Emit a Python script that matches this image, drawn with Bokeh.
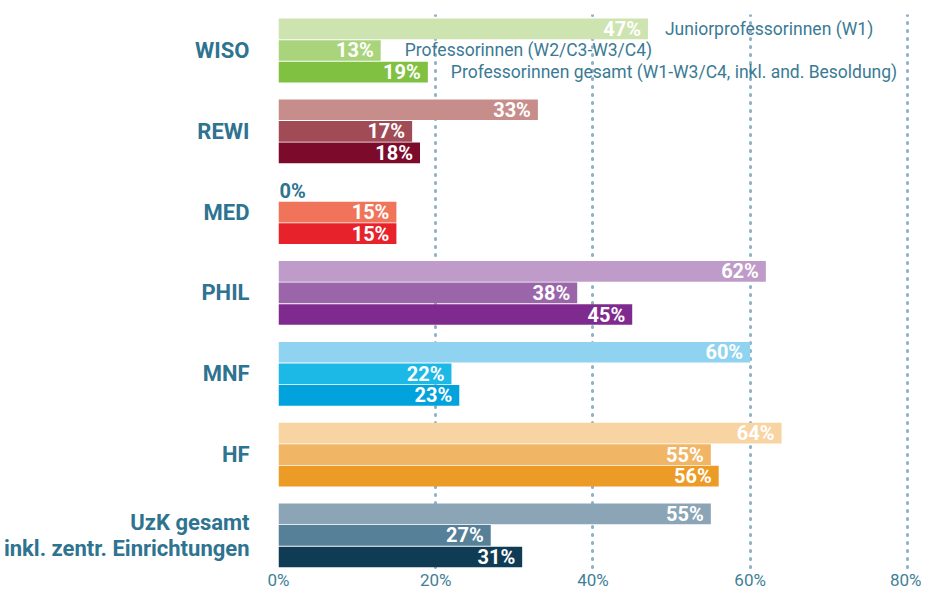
from bokeh.plotting import figure
from bokeh.models import ColumnDataSource, Range1d, FixedTicker
from bokeh.core.properties import value
from bokeh.embed import file_html
from bokeh.resources import INLINE

# ---- data ----
groups = ["WISO", "REWI", "MED", "PHIL", "MNF", "HF", "UzK gesamt\ninkl. zentr. Einrichtungen"]
series = ["Juniorprofessorinnen (W1)",
          "Professorinnen (W2/C3-W3/C4)",
          "Professorinnen gesamt (W1-W3/C4, inkl. and. Besoldung)"]
junior = [47, 33, 0, 62, 60, 64, 55]
prof = [13, 17, 15, 38, 22, 55, 27]
gesamt = [19, 18, 15, 45, 23, 56, 31]
colors_junior = ["#cde4b1", "#c78d8b", "#f6b3a0", "#bf9bc9", "#8fd3f0", "#f8d4a2", "#8ba5b6"]
colors_prof = ["#a9d47c", "#a04b55", "#ef7459", "#9a65a9", "#1cb8e6", "#f1b566", "#567f98"]
colors_gesamt = ["#80c142", "#7b0a2b", "#e8222b", "#7f2a8f", "#02a2dc", "#ec9b26", "#0f3c54"]
x_ticks = [0, 20, 40, 60, 80]

# styles
FONT = "Roboto"
TEAL = "#2e7390"
PITCH = 3.75
Y_TOP, Y_BOTTOM = -0.67, 25.08
legend_offsets = [17, 24, 23]

values_by_series = [junior, prof, gesamt]
colors_by_series = [colors_junior, colors_prof, colors_gesamt]

ys, vals, cols, labels = [], [], [], []
for g in range(len(groups)):
    for s in range(len(series)):
        ys.append(g * PITCH + s)
        vals.append(values_by_series[s][g])
        cols.append(colors_by_series[s][g])
        labels.append(f"{values_by_series[s][g]}%")

src = ColumnDataSource(dict(y=ys, v=vals, c=cols, t=labels))
nz = [i for i, v in enumerate(vals) if v > 0]
zz = [i for i, v in enumerate(vals) if v == 0]
src_nz = ColumnDataSource(dict(y=[ys[i] for i in nz], v=[vals[i] for i in nz], t=[labels[i] for i in nz]))
src_z = ColumnDataSource(dict(y=[ys[i] for i in zz], v=[vals[i] for i in zz], t=[labels[i] for i in zz]))

p = figure(width=921, height=592, output_backend="svg", toolbar_location=None,
           x_range=Range1d(0, 81.8), y_range=Range1d(Y_BOTTOM, Y_TOP),
           min_border_left=278, min_border_right=0, min_border_top=14, min_border_bottom=20)
p.outline_line_color = None
p.background_fill_color = "white"

p.hbar(y="y", right="v", left=0, height=0.96, color="c", line_color=None, source=src)

p.text(x="v", y="y", text="t", source=src_nz, x_offset=-7, text_align="right", text_baseline="middle",
       text_color="white", text_font=value(FONT), text_font_style="bold", text_font_size="20px")
p.text(x="v", y="y", text="t", source=src_z, x_offset=1, text_align="left", text_baseline="middle",
       text_color=TEAL, text_font=value(FONT), text_font_style="bold", text_font_size="20px")
for s in range(len(series)):
    p.text(x=[values_by_series[s][0]], y=[s], text=[series[s]], x_offset=legend_offsets[s],
           text_align="left", text_baseline="middle", text_color="#3a7a94",
           text_font=value(FONT), text_font_size="17.5px")

# x axis
p.xaxis.ticker = FixedTicker(ticks=x_ticks)
p.xaxis.major_label_overrides = {t: f"{t}%" for t in x_ticks}
p.xaxis.axis_line_color = None
p.xaxis.major_tick_line_color = None
p.xaxis.minor_tick_line_color = None
p.xaxis.major_tick_out = 0
p.xaxis.major_tick_in = 0
p.xaxis.major_label_text_color = "#3f7f99"
p.xaxis.major_label_text_font = FONT
p.xaxis.major_label_text_font_size = "17px"
p.xaxis.major_label_standoff = 0

# y axis with group labels
p.yaxis.ticker = FixedTicker(ticks=[g * PITCH + 1 for g in range(len(groups))])
p.yaxis.major_label_overrides = {g * PITCH + 1: groups[g] for g in range(len(groups))}
p.yaxis.axis_line_color = None
p.yaxis.major_tick_line_color = None
p.yaxis.minor_tick_line_color = None
p.yaxis.major_tick_out = 0
p.yaxis.major_tick_in = 0
p.yaxis.major_label_text_color = TEAL
p.yaxis.major_label_text_font = FONT
p.yaxis.major_label_text_font_style = "bold"
p.yaxis.major_label_text_font_size = "22px"
p.yaxis.major_label_standoff = 29
p.yaxis.major_label_text_line_height = 1.05

p.ygrid.grid_line_color = None
p.xgrid.grid_line_color = "#8fb2c6"
p.xgrid.grid_line_width = 3
p.xgrid.grid_line_dash = "1 7"
p.xgrid.grid_line_cap = "round"

open("out.html", "w").write(file_html(p, INLINE))
